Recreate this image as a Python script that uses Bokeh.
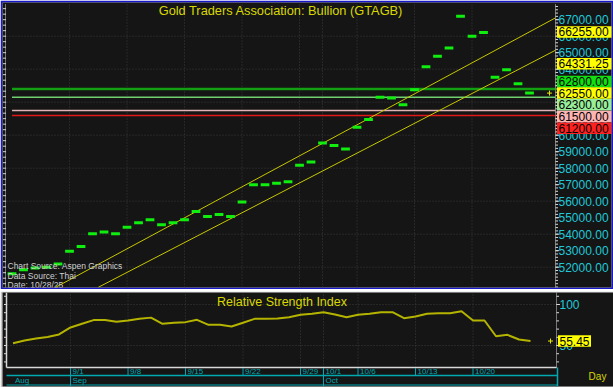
from bokeh.plotting import figure
from bokeh.models import Range1d, Grid
from bokeh.layouts import column
from bokeh.embed import file_html
from bokeh.resources import INLINE
from bokeh.core.properties import value

# ---------------- data ----------------
# trading-day index: 0 = Mon 9/1/2025
day_index = list(range(-5, 41))
bullion_price = [51600, 51850, 51950, 52000, 52200,
                 52970, 53250, 54020, 54140, 54020,
                 54420, 54690, 54870, 54570, 54690,
                 54870, 55370, 55070, 55190, 55070,
                 55950, 57000, 57000, 57090, 57180,
                 58180, 58380, 59520, 59370, 59170,
                 60480, 60950, 62300, 62260, 61840,
                 62750, 64140, 64780, 65290, 67200,
                 65990, 66230, 63510, 63960, 63110,
                 62550]
rsi_values = [52.8, 56.0, 58.5, 60.5, 63.5,
              72.0, 76.5, 81.0, 81.0, 79.0,
              80.5, 82.5, 84.0, 76.5, 77.7,
              78.5, 81.3, 75.2, 75.2, 73.2,
              77.7, 82.5, 82.5, 83.0, 84.5,
              87.4, 88.6, 90.6, 87.8, 84.5,
              87.4, 88.6, 90.6, 90.6, 83.3,
              85.4, 88.6, 89.4, 89.4, 91.8,
              80.5, 80.5, 61.3, 63.0, 57.3,
              55.45]
week_ticks = [0, 5, 10, 15, 20, 22, 25, 30, 35]
week_labels = ["9/1", "9/8", "9/15", "9/22", "9/29", "10/1", "10/6", "10/13", "10/20"]
month_ticks = [-5, 0, 22]
month_labels = ["Aug", "Sep", "Oct"]
level_prices = [62800, 62300, 61500, 61200]
upper_trend_x = [-1.22, 42.26]
upper_trend_y = [50777, 67110]
lower_trend_x = [2.5, 42.26]
lower_trend_y = [50782, 65148]
upper_trend_last = 66255.00
lower_trend_last = 64331.25
price_ticks = list(range(52000, 68000, 1000))
price_grid = list(range(52000, 68000, 2000))
rsi_ticks = [50, 100]

# ---------------- geometry (pixel helpers) ----------------
X0, X1 = -5.48, 42.26          # plot area spans page x 6 .. 555
Y0, Y1 = 50770, 67980          # price area spans page y 287 .. 3
R0, R1 = 23.2, 113.4           # RSI area spans page y 367 .. 293
PXD = 549 / (X1 - X0)
PXP = 284 / (Y1 - Y0)
PXR = 74 / (R1 - R0)


def xd(px):
    return X0 + (px - 6) / PXD


def yp(py):
    return Y0 + (287 - py) / PXP


def yr(py):
    return R0 + (367 - py) / PXR


BG = "#151515"
FONT = "Liberation Sans"
CYAN = "#20c8d8"
WHITE = "#d8d8d8"
GRID = "#3c3c3c"
TEAL = "#00a8b0"
YEL = "#d8d800"


def canvas(w, h, b, border, xr, yr_):
    f = figure(frame_width=w - 2 * b, frame_height=h - 2 * b, min_border=b,
               x_range=Range1d(*xr), y_range=Range1d(*yr_),
               x_axis_location=None, y_axis_location=None, toolbar_location=None,
               output_backend="svg", background_fill_color=BG, border_fill_color=border,
               outline_line_color=None)
    f.center = [c for c in f.center if not isinstance(c, Grid)]
    return f


def hsegs(f, ys, px0, px1, **kw):
    f.segment(x0=[xd(px0)] * len(ys), y0=ys, x1=[xd(px1)] * len(ys), y1=ys, **kw)


def vsegs(f, xs, y0, y1, **kw):
    f.segment(x0=xs, y0=[y0] * len(xs), x1=xs, y1=[y1] * len(xs), **kw)


def txt(f, xs, ys, texts, size, color, align="left", **kw):
    f.text(x=xs, y=ys, text=texts, text_align=align, text_baseline="middle",
           text_color=color, text_font=value(FONT), text_font_size=size, **kw)


# ---------------- main panel ----------------
p = canvas(613, 289, 2, "#1818c8", (xd(2), xd(611)), (yp(287), yp(2)))

# grid
hsegs(p, price_grid, 6, 555, line_color=GRID, line_dash="1 2")
vsegs(p, week_ticks, yp(287), yp(3), line_color=GRID, line_dash="1 2")

# left axis (ticks only)
left_ticks = [51000 + k * 1000 / 3 for k in range(51)]
vsegs(p, [xd(5)], yp(287), yp(3), line_color=WHITE, line_dash="1 1")
hsegs(p, left_ticks, 2.5, 5.5, line_color=WHITE)

# right axis
minor_ticks = list(range(50800, 68000, 200))
vsegs(p, [xd(555)], yp(287), yp(3), line_color=WHITE, line_dash="1 1")
hsegs(p, minor_ticks, 555, 557.5, line_color=WHITE)
hsegs(p, price_ticks, 555, 558.5, line_color=WHITE)
txt(p, [xd(558)] * len(price_ticks), price_ticks, ["%.2f" % t for t in price_ticks], "12px", CYAN)

# horizontal levels
level_styles = [("#12a012", 2.5), ("#70d070", 1.5), ("#e0b4b4", 1.5), ("#e01818", 1.5)]
for lv, (c, w) in zip(level_prices, level_styles):
    p.line([day_index[0], X1], [lv, lv], line_color=c, line_width=w)

# trend channel
p.line(upper_trend_x, upper_trend_y, line_color="#c8c800", line_width=1)
p.line(lower_trend_x, lower_trend_y, line_color="#c8c800", line_width=1)

# daily values
p.rect(x=day_index, y=bullion_price, width=0.76, height=3, height_units="screen",
       fill_color="#10ee10", line_color=None)

p.scatter([xd(549)], [bullion_price[-1]], marker="cross", size=5, line_color="#e8e800", line_width=1)

txt(p, [xd(280.5)], [yp(9.5)], ["Gold Traders Association: Bullion (GTAGB)"], "12.8px", YEL,
    align="center")
txt(p, [xd(7)] * 3, [yp(265.5), yp(275), yp(284.3)],
    ["Chart Source: Aspen Graphics", "Data Source: Thai", "Date: 10/28/25"], "8.5px", "#d0d0d0")

# right-side value labels, stacked so they don't overlap
label_vals = [upper_trend_last, lower_trend_last, level_prices[0], bullion_price[-1],
              level_prices[1], level_prices[2], level_prices[3]]
label_cols = ["#ffff00", "#ffff00", "#10e010", "#ffff00", "#98ee98", "#ffb4b4", "#ff2020"]
h = 11.7 / PXP
anchor = 3
pos = list(label_vals)
for j in range(anchor - 1, -1, -1):
    pos[j] = max(pos[j], pos[j + 1] + h)
for j in range(anchor + 1, len(pos)):
    pos[j] = min(pos[j], pos[j - 1] - h)
p.rect(x=[xd(584)] * len(pos), y=pos, width=55, width_units="screen", height=11.5,
       height_units="screen", fill_color=label_cols, line_color=None)
txt(p, [xd(558)] * len(pos), pos, ["%.2f" % v for v in label_vals], "12px", "#000000")

# ---------------- RSI panel + date strip ----------------
r = canvas(613, 96, 1, "#c8c8c8", (xd(1), xd(612)), (yr(386), yr(292)))

hsegs(r, rsi_ticks, 6, 555, line_color=GRID, line_dash="1 2")
vsegs(r, week_ticks, yr(367), yr(293), line_color=GRID, line_dash="1 2")

rsi_minor = list(range(30, 111, 10))
vsegs(r, [xd(5)], yr(367), yr(292), line_color=WHITE, line_width=1.5)
hsegs(r, rsi_minor, 2.5, 5.5, line_color=WHITE)
hsegs(r, [yr(367)], 5, 555, line_color=WHITE, line_width=1.5)
vsegs(r, [xd(555)], yr(367), yr(292), line_color=WHITE, line_dash="1 1")
hsegs(r, rsi_minor, 555, 557.5, line_color=WHITE)
hsegs(r, rsi_ticks, 555, 558.5, line_color=WHITE)
txt(r, [xd(558)] * len(rsi_ticks), rsi_ticks, [str(t) for t in rsi_ticks], "12px", CYAN)

r.line(day_index, rsi_values, line_color="#b4b400", line_width=2)
r.scatter([xd(549)], [rsi_values[-1]], marker="cross", size=5, line_color="#e8e800", line_width=1)
txt(r, [xd(280.5)], [yr(301)], ["Relative Strength Index"], "12.5px", YEL, align="center")
r.rect(x=[xd(573)], y=[rsi_values[-1]], width=33, width_units="screen", height=11.5,
       height_units="screen", fill_color="#ffff00", line_color=None)
txt(r, [xd(558)], [rsi_values[-1]], ["%.2f" % rsi_values[-1]], "12px", "#000000")

# date strip
hsegs(r, [yr(375)], 5, 556, line_color=TEAL, line_width=1.5)
hsegs(r, [yr(384.5)], 5, 556, line_color=TEAL, line_width=1)
vsegs(r, week_ticks, yr(367.5), yr(375), line_color=TEAL, line_width=1)
vsegs(r, month_ticks[1:], yr(375), yr(386), line_color=TEAL, line_width=1)
vsegs(r, [xd(556)], yr(367), yr(386), line_color=TEAL, line_width=1.5)
txt(r, week_ticks, [yr(371)] * len(week_ticks), week_labels, "8px", TEAL, x_offset=2)
txt(r, month_ticks, [yr(380)] * len(month_ticks), month_labels, "8px", TEAL, x_offset=2)
txt(r, [xd(596)], [yr(376)], ["Day"], "10px", YEL, align="center")

layout = column(p, r, spacing=2)

open("out.html", "w").write(file_html(layout, INLINE))
